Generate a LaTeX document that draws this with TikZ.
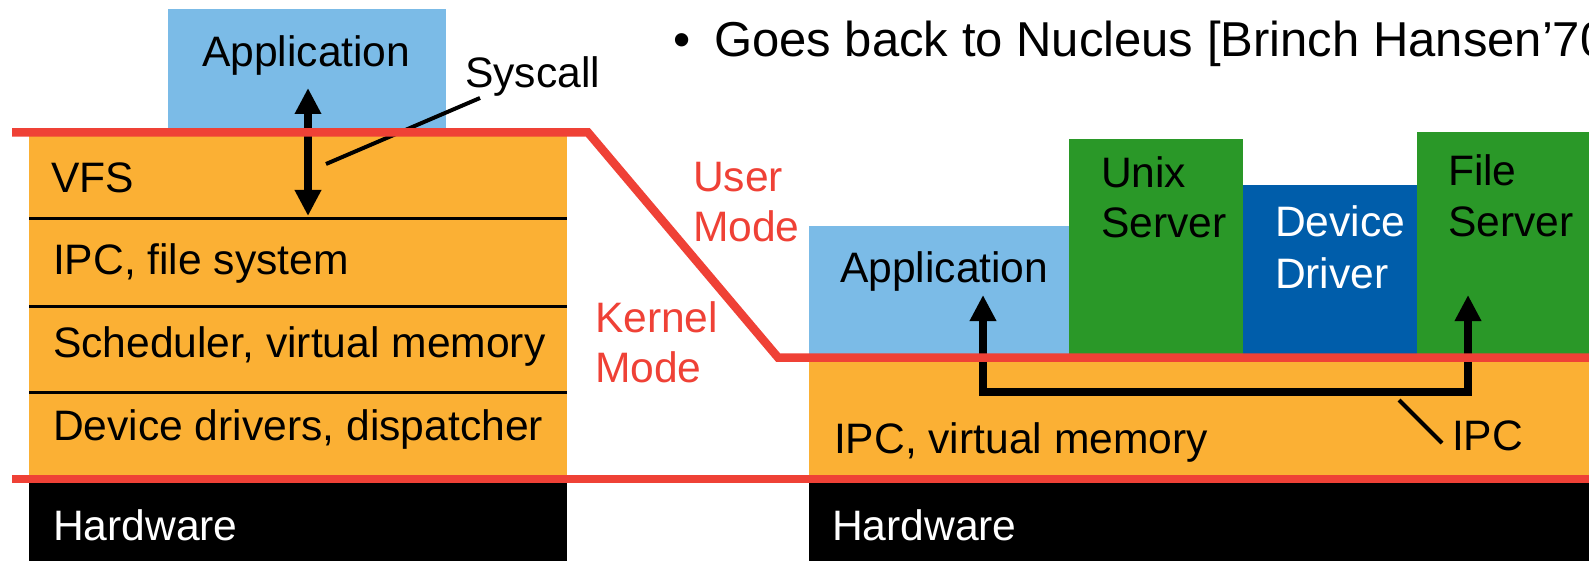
\documentclass[tikz,border=0pt]{standalone}
\usepackage{fontspec}
\setmainfont{Liberation Sans}
\usetikzlibrary{arrows.meta}
\definecolor{appblue}{RGB}{123,187,231}
\definecolor{korange}{RGB}{251,176,52}
\definecolor{srvgreen}{RGB}{42,152,40}
\definecolor{drvblue}{RGB}{0,93,170}
\definecolor{modered}{RGB}{239,65,54}
\tikzset{
  box/.style={draw=none, inner sep=0pt, outer sep=0pt, anchor=north west},
  lbl/.style={anchor=base west, inner sep=0pt, outer sep=0pt, font=\fontsize{42.6}{50}\selectfont},
  redlbl/.style={lbl, text=modered},
  sepline/.style={line width=3pt, black},
  redline/.style={line width=8.5pt, modered},
  bigarrow/.style={line width=7.5pt, black, {Triangle[width=25pt,length=26pt]}-{Triangle[width=25pt,length=26pt]}},
  pointer/.style={line width=4pt, black}
}
\begin{document}
\begin{tikzpicture}[x=1pt,y=-1pt]
\useasboundingbox (0,0) rectangle (1589,561);

% ---------- left: monolithic kernel ----------
\node[box, fill=appblue, minimum width=278pt, minimum height=131pt] (lapp) at (168,9) {};
\node[box, fill=korange, minimum width=538pt, minimum height=342pt] (lker) at (29,135) {};
\node[box, fill=black, minimum width=538pt, minimum height=80pt] (lhw) at (29,482) {};
\coordinate (s1a) at (29,219); \coordinate (s1b) at (567,219);
\coordinate (s2a) at (29,306); \coordinate (s2b) at (567,306);
\coordinate (s3a) at (29,392); \coordinate (s3b) at (567,392);
\draw[sepline] (s1a) -- (s1b);
\draw[sepline] (s2a) -- (s2b);
\draw[sepline] (s3a) -- (s3b);

\node[lbl] (tlapp) at (202,67) {Application};
\node[lbl] (tvfs) at (51,193) {VFS};
\node[lbl] (tipcfs) at (53,274) {IPC, file system};
\node[lbl] (tsched) at (53,357) {Scheduler, virtual memory};
\node[lbl] (tdev) at (53,440) {Device drivers, dispatcher};
\node[lbl, text=white] (tlhw) at (53,540) {Hardware};
\node[lbl] (tsys) at (465,88) {Syscall};

\coordinate (sysup) at (308,88);
\coordinate (sysdn) at (308,216);
\draw[bigarrow] (sysup) -- (sysdn);
\coordinate (syspa) at (480,98);
\coordinate (syspb) at (326,164);
\draw[pointer] (syspa) -- (syspb);

% ---------- right: microkernel ----------
\node[box, fill=appblue, minimum width=260pt, minimum height=132pt] (rapp) at (809,226) {};
\node[box, fill=srvgreen, minimum width=174pt, minimum height=219pt] (unix) at (1069,139) {};
\node[box, fill=drvblue, minimum width=174pt, minimum height=173pt] (drv) at (1243,185) {};
\node[box, fill=srvgreen, minimum width=172pt, minimum height=226pt] (fsrv) at (1417,132) {};
\node[box, fill=korange, minimum width=780pt, minimum height=120pt] (rker) at (809,357) {};
\node[box, fill=black, minimum width=780pt, minimum height=80pt] (rhw) at (809,482) {};

\node[lbl] (trapp) at (840,282) {Application};
\node[lbl] (tunix1) at (1101,188) {Unix};
\node[lbl] (tunix2) at (1101,238) {Server};
\node[lbl, text=white] (tdrv1) at (1275,237) {Device};
\node[lbl, text=white] (tdrv2) at (1275,288) {Driver};
\node[lbl] (tfile1) at (1448,186) {File};
\node[lbl] (tfile2) at (1448,237) {Server};
\node[lbl] (tipcvm) at (834,453) {IPC, virtual memory};
\node[lbl] (tipc) at (1452,450) {IPC};
\node[lbl, text=white] (trhw) at (832,540) {Hardware};

\coordinate (ipca) at (983,295);
\coordinate (ipcb) at (983,392);
\coordinate (ipcc) at (1468,392);
\coordinate (ipcd) at (1468,295);
\draw[bigarrow, line width=8pt, line join=miter] (ipca) -- (ipcb) -- (ipcc) -- (ipcd);
\coordinate (ipcpa) at (1399,400);
\coordinate (ipcpb) at (1442,443);
\draw[pointer] (ipcpa) -- (ipcpb);

% ---------- mode labels ----------
\node[redlbl] (tuser1) at (693,192) {User};
\node[redlbl] (tuser2) at (693,242) {Mode};
\node[redlbl] (tkern1) at (595,332) {Kernel};
\node[redlbl] (tkern2) at (595,382) {Mode};

% ---------- red boundaries ----------
\coordinate (ra) at (12,132.5);
\coordinate (rb) at (588,132.5);
\coordinate (rc) at (778,357.5);
\coordinate (rd) at (1589,357.5);
\draw[redline, line join=miter] (ra) -- (rb) -- (rc) -- (rd);
\coordinate (re) at (12,479);
\coordinate (rf) at (1589,479);
\draw[redline] (re) -- (rf);

% ---------- slide text ----------
\node[anchor=base west, inner sep=0pt, font=\fontsize{49}{56}\selectfont] (bul) at (673,57) {•};
\node[anchor=base west, inner sep=0pt, font=\fontsize{49}{56}\selectfont] (ttop) at (714,57) {Goes back to Nucleus [Brinch Hansen’70};
\end{tikzpicture}
\end{document}
